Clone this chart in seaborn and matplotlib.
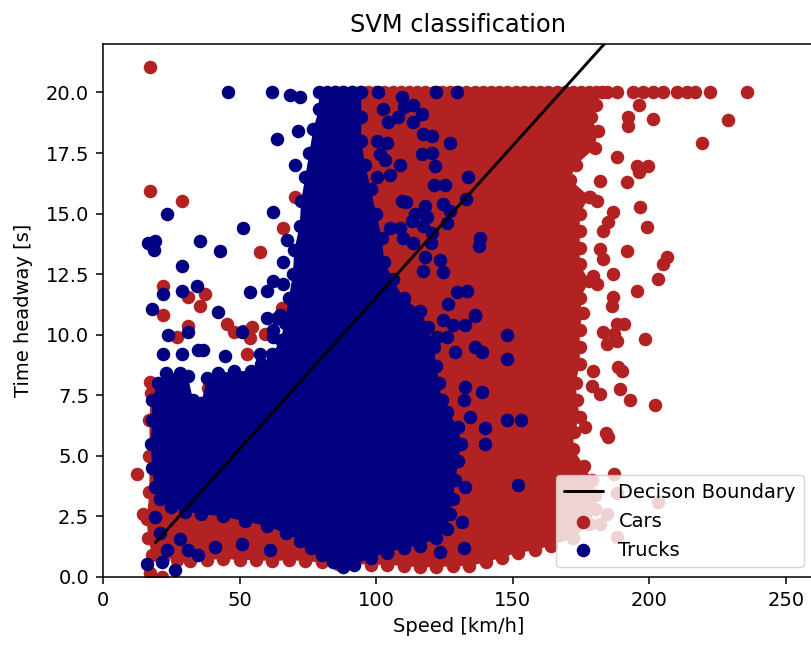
import matplotlib
matplotlib.use("Agg")
import matplotlib.pyplot as plt
import seaborn as sns
import pandas as pd

# ---------------------------------------------------------
# Data (speed in km/h, time headway in s)
# ---------------------------------------------------------

# outline of the dense car cloud (points on its outer edge, clockwise)
car_core_speed = [85, 88, 91, 94, 97, 100, 103, 106, 109, 112, 115, 118, 121, 124, 127, 130,
                  133, 136, 139, 142, 145, 148, 151, 154, 157, 160, 163, 166, 169, 172,
                  175, 178, 180.5, 182.5,
                  180.5, 178.5, 181, 180, 173, 171, 178, 174.5, 174.5, 174.5, 174.5, 178,
                  174.5, 175.5, 174.5, 174.5, 174.5, 173, 173.5, 174.5, 172.5, 172, 176,
                  179, 180, 180, 178, 172, 164,
                  158, 152, 146, 140, 134, 128, 122, 116, 110, 104, 98, 92, 86, 80, 74,
                  68, 62, 56, 50, 44, 38, 32, 27, 22, 18,
                  16.5, 16.0, 17.0, 17.0, 17.0, 17.5,
                  22, 30, 45, 58, 68, 72, 75, 77, 79, 82]
car_core_headway = [20.0] * 34 + \
                   [19.5, 19.0, 18.4, 17.7, 17.0, 16.4, 15.7, 15.0, 14.3, 13.6, 12.9, 12.2,
                    11.5, 10.9, 10.2, 9.5, 8.8, 8.0, 7.3, 6.6, 6.0, 5.3, 4.6,
                    4.0, 3.4, 2.8, 2.2, 1.6, 1.3,
                    1.1, 1.0, 0.8, 0.6, 0.45, 0.45, 0.4, 0.4, 0.45, 0.5, 0.5, 0.55, 0.55,
                    0.6, 0.65, 0.7, 0.65, 0.7, 0.7, 0.75, 0.7, 0.65, 0.7, 0.8, 0.9,
                    1.6, 2.4, 3.5, 5.0, 6.5, 7.6,
                    7.2, 6.5, 6.5, 7.5, 9.5, 11.5, 13.5, 15.5, 17.5, 19.0]

# single cars outside the dense cloud
car_speed = [17.2, 17.2, 28.8, 57.5, 22.0, 31.1, 37.4, 35.5, 22.0, 31.2, 45.3, 47.8,
             51.4, 54.4, 53.8, 59.3, 27.0, 65.4, 66.0, 70.3, 66.0, 52.6, 38.5, 17.2,
             12.3, 14.8, 17.2, 21.5,
             184.3, 188, 194, 197.8, 201.4, 205, 210, 213.6, 216.7, 222.2, 235.6,
             196, 192.3, 192.3, 201.4, 228.9, 219.1, 188, 195.3, 199.6, 196, 191.7,
             181.9, 178.3, 180.7, 196.6, 186.8, 199, 183.1, 185, 191.7, 206.3, 205.1,
             181.9, 183.1, 186.8, 179.5, 180.7, 203.3, 195.3, 186.8, 186.2, 188, 190.5,
             198.4, 183.1, 184.5, 188, 187, 188.6, 190, 189.4, 193, 202, 182, 179.5,
             179, 185, 184, 176.5, 187, 188, 184.5, 188, 203, 182]
car_headway = [21.07, 15.95, 15.53, 13.4, 12.0, 11.55, 11.7, 11.2, 10.8, 10.38, 10.45, 10.1,
               10.17, 10.31, 9.85, 10.04, 9.9, 11.1, 14.4, 15.7, 11.1, 9.21, 7.8, 8.04,
               4.26, 2.61, 0.15, 0.0,
               20.0, 20.0, 20.0, 20.0, 20.0, 20.0, 20.0, 20.0, 20.0, 20.0, 20.0,
               19.5, 19.0, 18.6, 18.9, 18.86, 17.9, 17.32, 16.98, 16.98, 16.7, 16.29,
               16.36, 15.67, 15.53, 15.26, 15.05, 14.43, 14.3, 14.64, 13.47, 13.2, 12.92,
               13.54, 13.13, 12.51, 12.44, 12.1, 12.3, 11.82, 11.55, 11.2, 10.45, 10.45,
               9.83, 10.1, 9.62, 9.76, 10.04, 8.66, 8.52, 7.78, 7.29, 7.08, 7.57, 8.52,
               7.9, 5.77, 5.93, 6.19, 4.27, 3.45, 2.62, 1.64, 3.08, 2.2]

# outline of the dense truck cloud (clockwise)
truck_core_speed = [79, 82, 85, 88, 91, 94.5,
                    94.5, 94.5, 96, 98, 100, 102, 103, 106, 110, 116, 119, 121, 122, 123,
                    124, 126, 130, 131, 130, 129, 128, 127, 126, 122, 116, 110, 104, 98,
                    92, 88, 84, 80, 76, 72, 67, 60, 52, 44, 36, 30, 25, 21, 19, 18, 17.5,
                    18, 18, 20, 23, 28, 31, 33, 36, 38, 42, 48, 54, 58, 62, 65, 66.5, 68,
                    69.5, 70, 72, 72.5, 74, 75.5, 77, 79]
truck_core_headway = [20.0, 20.0, 20.0, 20.0, 20.0, 20.0,
                      19.0, 18.0, 17.0, 16.0, 15.0, 14.0, 13.0, 12.3, 11.5, 11.0, 10.3,
                      9.5, 8.7, 8.0, 7.3, 6.8, 6.2, 5.5, 4.8, 4.0, 3.2, 2.6, 2.0, 1.6, 1.3,
                      1.2, 1.0, 0.8, 0.5, 0.4, 0.6, 0.9, 1.2, 1.5, 1.8, 2.1, 2.3, 2.5, 2.6,
                      2.7, 2.9, 3.2, 3.7, 4.5, 5.5, 6.5, 7.3, 8.0, 8.4, 8.4, 8.3, 7.3, 7.2,
                      8.2, 8.4, 8.5, 8.5, 8.8, 9.2, 9.8, 10.5, 11.5, 12.5, 13.5, 14.5,
                      15.5, 16.5, 17.5, 18.5, 19.3]

# single trucks outside the dense cloud
truck_speed = [45.8, 61.8, 68.4, 72.0, 71.4, 63.6, 70.3, 62.4, 23.3, 51.4, 35.5, 42.9,
               16.5, 19.0, 18.5, 28.8, 34.3, 28.8, 22.0, 53.8, 60.0, 17.8, 42.2, 60.0,
               23.9, 31.2, 50.8, 64.8, 22.1, 28.8, 34.9, 36.7, 44.7, 57.5, 62.3, 67.2,
               66.0, 62.3, 66.0, 63.6, 62.3,
               19.2, 20.9, 23.3, 28.2, 31.2, 34.9, 41.0, 50.8, 61.1, 16.0, 21.5, 26.4,
               100.7, 109.3, 113.5, 116.6, 122, 129.5, 102.5, 104.4, 108, 100.2, 103.8,
               120.3, 127, 116.6, 121.5, 101.4, 103.2, 108.7, 125.2, 133.7, 100.2, 105,
               109.3, 111, 114.2, 117.9, 118.5, 127, 105, 108.7, 109.9, 113.5, 120.3,
               138, 117.9, 123.4, 124.5, 117, 129.5, 133.1, 126.4, 136.2, 124.6, 122.2,
               128.8, 138.6, 148, 136, 132.5, 138.6, 132, 134.3, 139.8, 139.8, 148, 153,
               152, 132.5, 131.3, 132, 123.4, 110, 113.5, 117, 120.4, 121, 124.6, 133,
               113, 117, 126, 120, 137.5, 128, 132.6, 126, 136, 148]
truck_headway = [20.0, 20.0, 19.9, 19.8, 18.4, 18.08, 17.0, 15.05, 15.0, 14.4, 13.86, 13.47,
                 13.8, 13.85, 13.5, 12.85, 12.03, 11.8, 11.7, 11.75, 11.8, 11.07, 10.93,
                 10.67, 9.97, 10.1, 10.1, 10.8, 9.21, 9.21, 9.35, 9.35, 9.14, 9.21, 9.9,
                 13.9, 13.0, 12.2, 12.1, 10.7, 10.2,
                 2.47, 1.8, 1.1, 1.58, 1.1, 0.89, 1.24, 1.38, 1.1, 0.55, 0.62, 0.28,
                 20.0, 19.8, 19.5, 19.1, 20.0, 20.0, 19.3, 18.8, 19.0, 18.0, 17.9,
                 18.2, 17.9, 17.46, 16.98, 17.46, 17.2, 17.0, 16.2, 16.5, 16.5, 16.6,
                 15.5, 15.46, 15.0, 15.3, 14.85, 15.1, 14.4, 14.4, 14.0, 13.8, 14.2,
                 14.0, 13.2, 13.1, 12.6, 12.65, 11.75, 11.8, 11.27, 10.79, 10.59, 9.9,
                 9.28, 9.28, 9.97, 10.8, 7.84, 7.63, 7.29, 6.6, 6.13, 5.5, 6.46, 6.46,
                 3.78, 3.71, 2.27, 1.18, 1.03, 19.4, 18.8, 18.3, 17.5, 16.2, 15.4, 15.6,
                 14.7, 14.5, 14.6, 13.8, 13.65, 10.4, 10.4, 9.9, 9.5, 9.0]

# decision boundary of the SVM
boundary_speed = [19.2, 200.0]
boundary_headway = [1.42, 24.07]

# ---------------------------------------------------------
# Plot
# ---------------------------------------------------------
sns.set_style("ticks")
plt.rcParams.update({
    'font.family': ['DejaVu Sans'],
    'font.size': 14,
    'text.color': 'black',
    'axes.labelcolor': 'black',
    'axes.edgecolor': 'black',
    'axes.linewidth': 1.1,
    'xtick.color': 'black',
    'ytick.color': 'black',
    'xtick.major.size': 5,
    'ytick.major.size': 5,
    'xtick.major.width': 1.1,
    'ytick.major.width': 1.1,
    'xtick.major.pad': 5,
    'ytick.major.pad': 5,
})

cars = pd.DataFrame({'speed': car_core_speed + car_speed,
                     'headway': car_core_headway + car_headway})
trucks = pd.DataFrame({'speed': truck_core_speed + truck_speed,
                       'headway': truck_core_headway + truck_headway})

fig = plt.figure(figsize=(8.12, 6.45), dpi=100)
ax = fig.add_axes([103 / 812, 1 - 577 / 645, (813.4 - 103) / 812, (577 - 44) / 645])

car_color = 'firebrick'
truck_color = 'navy'

# dense clouds are filled, the edge and single points are scattered on top
ax.fill(car_core_speed, car_core_headway, color=car_color, linewidth=0, zorder=1.0)
sns.scatterplot(data=cars, x='speed', y='headway', color=car_color, s=95,
                linewidth=0, label='Cars', ax=ax, zorder=1.1)
ax.fill(truck_core_speed, truck_core_headway, color=truck_color, linewidth=0, zorder=1.2)
sns.scatterplot(data=trucks, x='speed', y='headway', color=truck_color, s=95,
                linewidth=0, label='Trucks', ax=ax, zorder=1.3)
sns.lineplot(x=boundary_speed, y=boundary_headway, color='black', linewidth=2.1,
             label='Decison Boundary', ax=ax, zorder=2)

ax.set_xlim(0, 260)
ax.set_ylim(0, 22)
ax.set_xticks([0, 50, 100, 150, 200, 250])
ax.set_yticks([0, 2.5, 5, 7.5, 10, 12.5, 15, 17.5, 20])
ax.set_yticklabels(['0.0', '2.5', '5.0', '7.5', '10.0', '12.5', '15.0', '17.5', '20.0'])
ax.set_xlabel('Speed [km/h]', fontsize=14, labelpad=5)
ax.set_ylabel('Time headway [s]', fontsize=14, labelpad=9)
ax.set_title('SVM classification', fontsize=17.4, pad=8.5)
ax.tick_params(labelsize=14)

handles, labels = ax.get_legend_handles_labels()
order = [labels.index('Decison Boundary'), labels.index('Cars'), labels.index('Trucks')]
ax.legend([handles[i] for i in order], [labels[i] for i in order], loc='lower right',
          fontsize=14, framealpha=0.8, edgecolor='0.8', fancybox=True)

plt.savefig('out.png', dpi=100)
plt.close()
